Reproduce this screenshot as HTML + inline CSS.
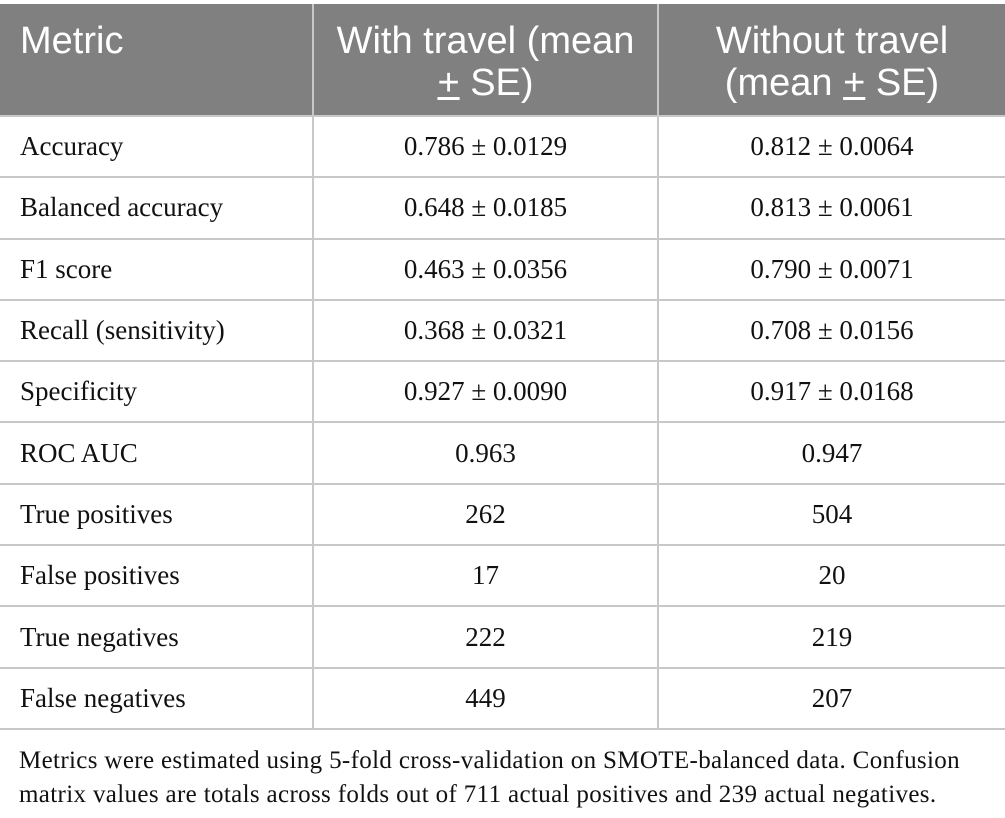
<!DOCTYPE html>
<html><head><meta charset="utf-8"><style>
body{margin:0;width:1005px;height:818px;background:#fff;overflow:hidden;position:relative}
table{position:absolute;left:0;top:4px;width:1005px;border-collapse:collapse;table-layout:fixed}
th{background:#7f807f;color:#fff;font-family:"Liberation Sans","DejaVu Sans",sans-serif;font-weight:normal;font-size:38px;line-height:42px;height:111px;padding:0;vertical-align:top;border:2px solid #c8c8c8;border-top:none}
th div{padding-top:16px}
td{font-family:"Liberation Serif",serif;font-size:27px;height:59.3px;padding:0;border:2px solid #c8c8c8;text-align:center;color:#111}
td:first-child{text-align:left;padding-left:20px}
th:first-child{text-align:left;padding-left:20px}
tr td:first-child,tr th:first-child{border-left:none}
tr td:last-child,tr th:last-child{border-right:none}
.note{position:absolute;left:19px;top:744px;font-family:"Liberation Serif",serif;font-size:25px;letter-spacing:0.35px;line-height:34px;color:#111;width:990px;white-space:nowrap}
</style></head><body>
<table>
<colgroup><col style="width:313px"><col style="width:345px"><col style="width:347px"></colgroup>
<tr><th><div>Metric</div></th><th style="text-align:center"><div>With travel (mean<br><u>+</u> SE)</div></th><th style="text-align:center"><div>Without travel<br>(mean <u>+</u> SE)</div></th></tr>
<tr><td>Accuracy</td><td>0.786 ± 0.0129</td><td>0.812 ± 0.0064</td></tr>
<tr><td>Balanced accuracy</td><td>0.648 ± 0.0185</td><td>0.813 ± 0.0061</td></tr>
<tr><td>F1 score</td><td>0.463 ± 0.0356</td><td>0.790 ± 0.0071</td></tr>
<tr><td>Recall (sensitivity)</td><td>0.368 ± 0.0321</td><td>0.708 ± 0.0156</td></tr>
<tr><td>Specificity</td><td>0.927 ± 0.0090</td><td>0.917 ± 0.0168</td></tr>
<tr><td>ROC AUC</td><td>0.963</td><td>0.947</td></tr>
<tr><td>True positives</td><td>262</td><td>504</td></tr>
<tr><td>False positives</td><td>17</td><td>20</td></tr>
<tr><td>True negatives</td><td>222</td><td>219</td></tr>
<tr><td>False negatives</td><td>449</td><td>207</td></tr>
</table>
<div class="note">Metrics were estimated using 5-fold cross-validation on SMOTE-balanced data. Confusion<br>matrix values are totals across folds out of 711 actual positives and 239 actual negatives.</div>
</body></html>
